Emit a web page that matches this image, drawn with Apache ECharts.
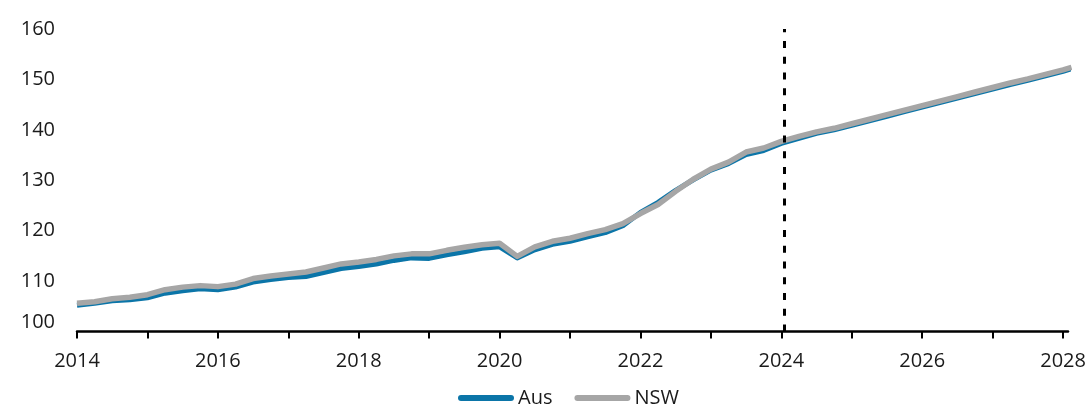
<!DOCTYPE html>
<html>
<head>
<meta charset="utf-8">
<script src="https://cdn.jsdelivr.net/npm/echarts@6/dist/echarts.min.js"></script>
<style>
html,body{margin:0;padding:0;background:#fff;}
#chart{width:1092px;height:408px;}
</style>
</head>
<body>
<div id="chart"></div>
<script>
// Quarterly time points (decimal years)
const quarters = [
  2014.00,2014.25,2014.50,2014.75,2015.00,2015.25,2015.50,2015.75,
  2016.00,2016.25,2016.50,2016.75,2017.00,2017.25,2017.50,2017.75,
  2018.00,2018.25,2018.50,2018.75,2019.00,2019.25,2019.50,2019.75,
  2020.00,2020.25,2020.50,2020.75,2021.00,2021.25,2021.50,2021.75,
  2022.00,2022.25,2022.50,2022.75,2023.00,2023.25,2023.50,2023.75,
  2024.00,2024.25,2024.50,2024.75,2025.00,2025.25,2025.50,2025.75,
  2026.00,2026.25,2026.50,2026.75,2027.00,2027.25,2027.50,2027.75,
  2028.00,2028.12
];
const aus = [
  105.2,105.6,106.1,106.3,106.7,107.6,108.1,108.5,
  108.3,108.8,109.8,110.3,110.7,110.9,111.7,112.5,
  112.9,113.4,114.1,114.6,114.5,115.2,115.8,116.5,
  116.8,114.6,116.2,117.3,117.9,118.8,119.6,121.0,
  123.6,125.6,128.0,130.1,132.0,133.3,135.1,135.9,
  137.3,138.3,139.3,140.0,140.9,141.8,142.7,143.6,
  144.5,145.4,146.3,147.2,148.1,149.0,149.8,150.7,
  151.6,152.1
];
const nsw = [
  105.6,105.9,106.5,106.8,107.3,108.3,108.8,109.1,
  108.9,109.4,110.5,111.0,111.4,111.8,112.6,113.4,
  113.8,114.3,115.0,115.4,115.4,116.1,116.7,117.2,
  117.5,114.9,116.8,117.9,118.5,119.4,120.2,121.4,
  123.4,125.2,127.8,130.2,132.2,133.6,135.6,136.4,
  137.7,138.7,139.6,140.3,141.2,142.1,143.0,143.9,
  144.8,145.7,146.6,147.5,148.4,149.3,150.1,151.0,
  151.9,152.4
];
const xTickYears = [2014,2015,2016,2017,2018,2019,2020,2021,2022,2023,2024,2025,2026,2027,2028];
const xLabelYears = [2014,2016,2018,2020,2022,2024,2026,2028];
const forecastStart = 2024.04;

const FONT = '"Open Sans", "Noto Sans", sans-serif';
const TXT = '#1a1a1a';

const chart = echarts.init(document.getElementById('chart'), null, {renderer: 'canvas'});
const pair = (arr) => quarters.map((q, i) => [q, arr[i]]);

chart.setOption({
  animation: false,
  backgroundColor: '#fff',
  grid: {left: 77, right: 24, top: 29, bottom: 76.5, containLabel: false},
  legend: {
    left: 453, top: 383,
    itemWidth: 56, itemHeight: 6, itemGap: 22,
    textStyle: {fontFamily: FONT, fontSize: 20, color: TXT, padding: [0,0,0,-1]},
    data: [
      {name: 'Aus', icon: 'path://M3,0 H53 A3,3 0 0 1 53,6 H3 A3,3 0 0 1 3,0 Z'},
      {name: 'NSW', icon: 'path://M3,0 H53 A3,3 0 0 1 53,6 H3 A3,3 0 0 1 3,0 Z'}
    ]
  },
  xAxis: {
    type: 'value', min: 2014, max: 2028.07, interval: 1,
    splitLine: {show: false},
    axisLine: {show: true, onZero: false, lineStyle: {color: '#000', width: 2.5}},
    axisTick: {show: true, length: 7, lineStyle: {color: '#000', width: 2}, customValues: xTickYears},
    axisLabel: {
      customValues: xLabelYears,
      fontFamily: FONT, fontSize: 20, color: TXT, margin: 20,
      formatter: (v) => String(Math.round(v))
    }
  },
  yAxis: {
    type: 'value', min: 100, max: 160, interval: 10,
    splitLine: {show: false},
    axisLine: {show: false},
    axisTick: {show: false},
    axisLabel: {
      fontFamily: FONT, fontSize: 20, color: TXT, margin: 22,
      formatter: (v) => v === 100 ? '{low|100}' : String(v),
      rich: {low: {fontFamily: FONT, fontSize: 20, color: TXT, padding: [0,0,19,0]}}
    }
  },
  series: [
    {
      name: 'Aus', type: 'line', data: pair(aus),
      showSymbol: false, symbol: 'none', clip: false,
      color: '#0b75a8',
      lineStyle: {color: '#0b75a8', width: 5, join: 'round'},
      z: 2,
      markLine: {
        silent: true, symbol: 'none',
        label: {show: false},
        lineStyle: {color: '#000', width: 3, type: [7, 8.75]},
        data: [{xAxis: forecastStart}]
      }
    },
    {
      name: 'NSW', type: 'line', data: pair(nsw),
      showSymbol: false, symbol: 'none', clip: false,
      color: '#a6a6a6',
      lineStyle: {color: '#a6a6a6', width: 5.5, join: 'round'},
      z: 3
    }
  ]
});
</script>
</body>
</html>
